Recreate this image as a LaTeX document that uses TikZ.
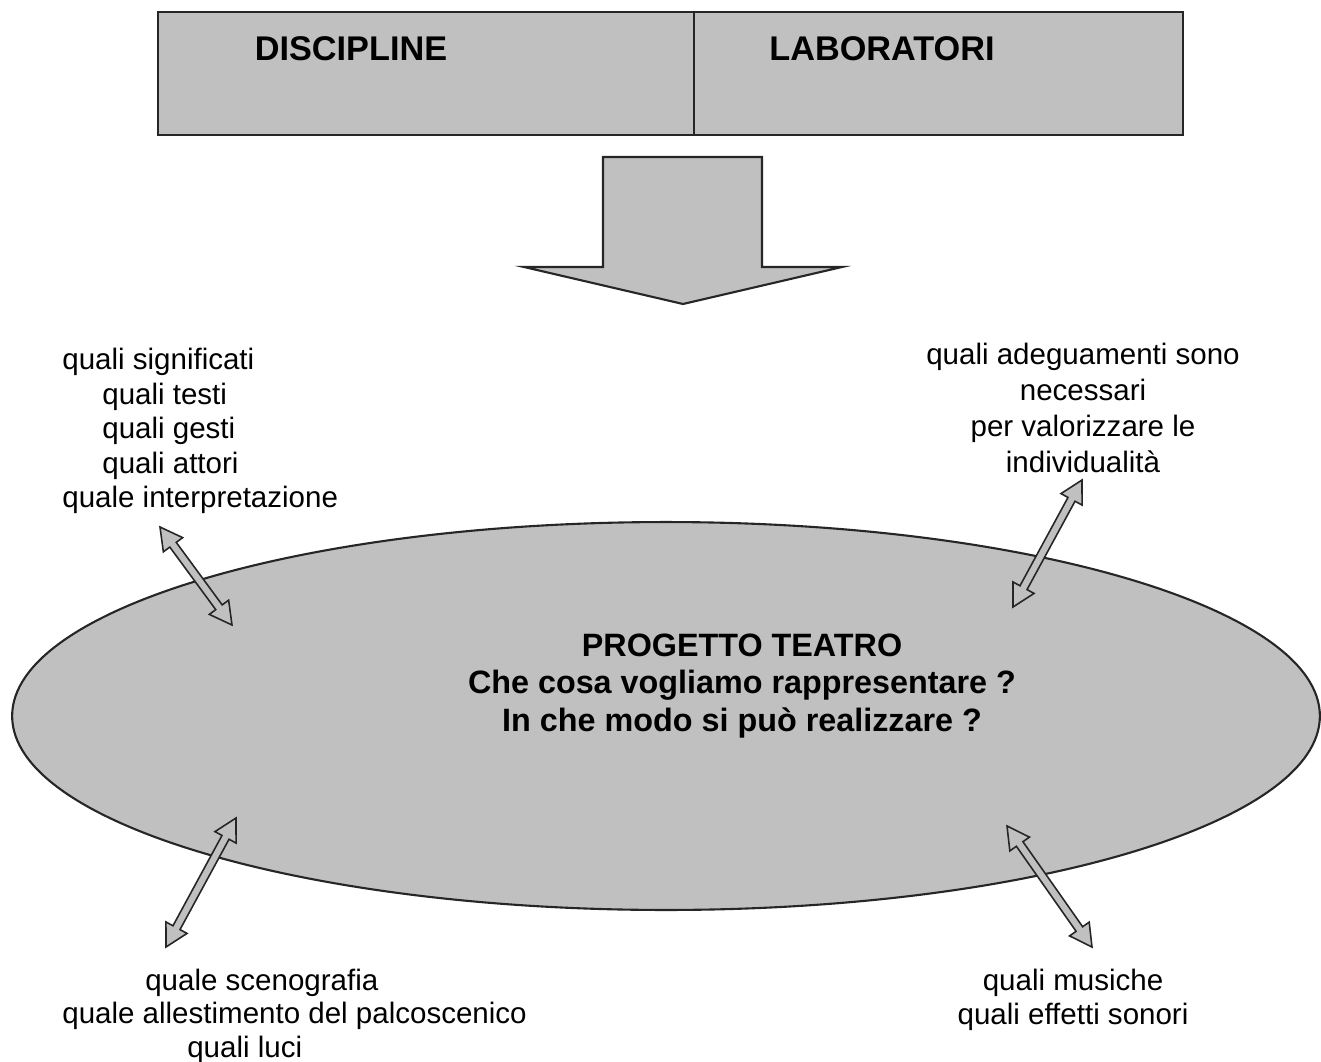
\documentclass[tikz,border=0pt]{standalone}
\usepackage{fontspec}
\setmainfont{Liberation Sans}
\usetikzlibrary{calc,shapes.geometric}
\definecolor{panelgray}{RGB}{192,192,192}
\tikzset{
  panel/.style={draw=black!85,line width=1.2pt,fill=panelgray},
  twoarrow/.style={draw=black!85,line width=0.9pt,fill=panelgray,line join=miter},
  small/.style={inner sep=0,font=\fontsize{16.8}{19.6}\selectfont},
  title/.style={inner sep=0,font=\fontsize{19.5}{22}\selectfont\bfseries},
}
% double block arrow between two named coordinates
\newcommand{\twoway}[2]{%
  \path ($(#1)!0.44cm!(#2)$) coordinate (#1h) ($(#2)!0.44cm!(#1)$) coordinate (#2h);
  \draw[twoarrow] (#1)
    -- ($(#1h)!0.24cm!90:(#2)$) -- ($(#1h)!0.08cm!90:(#2)$)
    -- ($(#2h)!0.08cm!-90:(#1)$) -- ($(#2h)!0.24cm!-90:(#1)$)
    -- (#2)
    -- ($(#2h)!0.24cm!90:(#1)$) -- ($(#2h)!0.08cm!90:(#1)$)
    -- ($(#1h)!0.08cm!-90:(#2)$) -- ($(#1h)!0.24cm!-90:(#2)$) -- cycle;}

\begin{document}
\begin{tikzpicture}[x=0.02cm,y=-0.02cm]
  \useasboundingbox (0,0) rectangle (1321,1061);

  % top boxes
  \node[panel,minimum width=10.72cm,minimum height=2.46cm,inner sep=0](disc) at (426,73.5) {};
  \node[panel,minimum width=9.78cm,minimum height=2.46cm,inner sep=0](lab) at (938.5,73.5) {};
  \node[title](disctext) at (351,49) {DISCIPLINE};
  \node[title](labtext) at (882,49) {LABORATORI};

  % big arrow
  \draw[panel] (603,157) -- (762,157) -- (762,267) -- (842,267) -- (683,304)
    -- (524,267) -- (603,267) -- cycle;

  % ellipse
  \node[panel,ellipse,minimum width=26.16cm,minimum height=7.76cm,inner sep=0](teatro) at (666,716) {};
  \node[align=center,inner sep=0,font=\fontsize{18.4}{21.3}\selectfont\bfseries](progetto) at (742,686)
    {PROGETTO TEATRO\\Che cosa vogliamo rappresentare ?\\In che modo si può realizzare ?};

  % questions
  \node[small,align=left,anchor=west](sig) at (62,431) {quali significati\\
    \hspace*{0.8cm}quali testi\\
    \hspace*{0.8cm}quali gesti\\
    \hspace*{0.8cm}quali attori\\
    quale interpretazione};
  \node[inner sep=0,align=center,font=\fontsize{16.8}{20.5}\selectfont](adeg) at (1083,407.5)
    {quali adeguamenti sono\\necessari\\per valorizzare le\\individualità};
  \node[inner sep=0,align=left,anchor=west,font=\fontsize{16.8}{19.1}\selectfont](sceno) at (62,1016)
    {\hspace*{1.66cm}quale scenografia\\
    quale allestimento del palcoscenico\\
    \hspace*{2.5cm}quali luci};
  \node[inner sep=0,align=center,font=\fontsize{16.8}{19.4}\selectfont](music) at (1073,1000)
    {quali musiche\\quali effetti sonori};

  % two-way arrows
  \coordinate (sigA) at (160,527);
  \coordinate (sigB) at (232,625);
  \coordinate (adA) at (1082,480);
  \coordinate (adB) at (1013,607);
  \coordinate (scA) at (236,818);
  \coordinate (scB) at (166,947);
  \coordinate (muA) at (1007,826);
  \coordinate (muB) at (1092,947);
  \twoway{sigA}{sigB}
  \twoway{adA}{adB}
  \twoway{scA}{scB}
  \twoway{muA}{muB}
\end{tikzpicture}
\end{document}
